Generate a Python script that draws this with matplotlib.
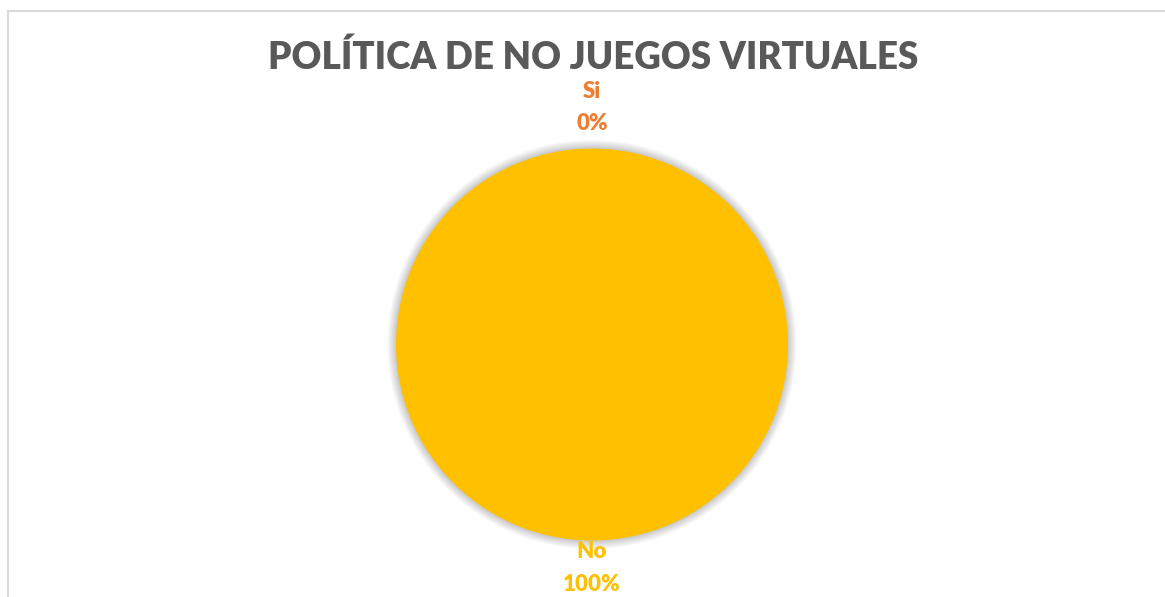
import numpy as np
import matplotlib
matplotlib.use("Agg")
import matplotlib.pyplot as plt
from matplotlib.patches import Circle
from matplotlib.lines import Line2D

title = "POLÍTICA DE NO JUEGOS VIRTUALES"
categories = ["Si", "No"]
values = [0, 100]
colors = ["#ED7D31", "#FFC000"]

W, H = 1165, 597
fig = plt.figure(figsize=(W / 100, H / 100), dpi=100)
fig.patch.set_facecolor("white")

# chart-area frame (left and top edges visible)
fig.add_artist(Line2D([8 / W, 8 / W], [0, 1 - 11 / H], color="#D9D9D9", lw=1.5))
fig.add_artist(Line2D([8 / W, 1], [1 - 11 / H, 1 - 11 / H], color="#D9D9D9", lw=1.5))

font = ["Lato", "DejaVu Sans"]
fig.text(593 / W, 1 - 57 / H, title, ha="center", va="center",
         fontsize=26.5, fontweight="heavy", color="#595959", family=font)

cx, cy, r = 592, 344.5, 196
ax = fig.add_axes([(cx - r) / W, (H - cy - r) / H, 2 * r / W, 2 * r / H])

wedges, _ = ax.pie(values, colors=colors, startangle=90, counterclock=False,
                   radius=1, wedgeprops=dict(linewidth=0), normalize=True)
for w in wedges:
    w.set_zorder(2)

ax.set_xlim(-1, 1)
ax.set_ylim(-1, 1)
ax.set_aspect("equal")
ax.axis("off")

# soft glow behind the pie
for k in range(18):
    ax.add_patch(Circle((0, 0), 1 + 0.0025 * (k + 1), facecolor="#000000",
                        alpha=0.012, edgecolor="none", zorder=0,
                        clip_on=False))

total = sum(values)
dists = [1.21, 1.14]
for w, cat, v, c, d in zip(wedges, categories, values, colors, dists):
    ang = np.deg2rad((w.theta1 + w.theta2) / 2)
    x, y = d * np.cos(ang), d * np.sin(ang)
    ax.text(x, y + 0.082, cat, ha="center", va="center", fontsize=16,
            fontweight="heavy", color=c, family=font, clip_on=False)
    ax.text(x, y - 0.082, f"{v / total:.0%}", ha="center", va="center",
            fontsize=16, fontweight="heavy", color=c, family=font,
            clip_on=False)

fig.savefig("out.png", dpi=100, facecolor="white")
